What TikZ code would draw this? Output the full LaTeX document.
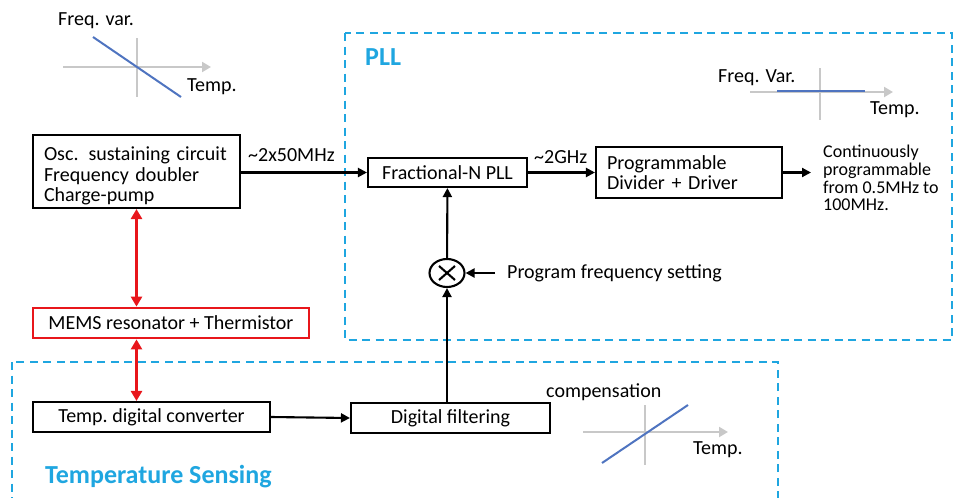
\documentclass[tikz,border=0pt]{standalone}
\usepackage{fontspec}
\setmainfont{Carlito}
\usepackage{tikz}
\usetikzlibrary{arrows.meta,positioning,calc,shapes.geometric}
\definecolor{cFrame}{HTML}{1FA6E0}
\definecolor{cCurve}{HTML}{4F74C0}
\definecolor{cAxis}{HTML}{C8C8C8}
\definecolor{cMems}{HTML}{E8161B}
\tikzset{
  blk/.style   ={draw, line width=2.1pt, font=\fontsize{20}{20.3}\selectfont, inner sep=0pt},
  memsblk/.style={draw=cMems, line width=2.8pt, font=\fontsize{20}{20.3}\selectfont, inner sep=0pt},
  lbl/.style   ={inner sep=0pt, anchor=west, font=\fontsize{20}{20.3}\selectfont},
  small/.style ={inner sep=0pt, anchor=west, align=left, font=\fontsize{18}{17.7}\selectfont},
  title/.style ={inner sep=0pt, anchor=west, text=cFrame, font=\bfseries\fontsize{26}{28}\selectfont},
  grp/.style   ={draw=cFrame, line width=2.4pt, dash pattern=on 8pt off 5.5pt},
  arrow/.style ={-{Triangle[length=9pt,width=9pt]}, line width=2.1pt},
  rarrow/.style={{Triangle[length=10pt,width=11pt]}-{Triangle[length=10pt,width=11pt]}, line width=2.8pt, draw=cMems},
  axis/.style  ={draw=cAxis, line width=2pt},
  curve/.style ={draw=cCurve, line width=2pt},
}

\begin{document}
\begin{tikzpicture}[x=1pt, y=-1pt]
  \useasboundingbox (0,0) rectangle (954,498);
  \clip (0,0) rectangle (954,498);
  % frames
  \draw[grp] (345,33) rectangle (952,340);
  \draw[grp] (12,362) rectangle (778,520);
  \node[title] (tpll) at (365,57) {PLL};
  \node[title] (tsens) at (45,477) {Temperature Sensing};
  % blocks
  \node[blk, text width=185pt, inner xsep=11pt, minimum height=73pt, align=left] (osc) at (136.5,171.5)
    {\rule{0pt}{23pt}Osc. sustaining circuit\\Frequency doubler\\Charge-pump};
  \node[blk, minimum width=159pt, minimum height=29pt] (fpll) at (447.5,172.5) {Fractional-N PLL};
  \node[blk, text width=164pt, inner xsep=11pt, minimum height=51pt, align=left] (prog) at (689,172.5)
    {Programmable\\Divider + Driver};
  \node[draw, ellipse, line width=2.1pt, minimum width=35pt, minimum height=28pt, inner sep=0pt] (mix) at (447,273) {};
  \draw[line width=2.1pt] ($(mix.center)+(-8,-7)$) -- ($(mix.center)+(8,7)$)
                          ($(mix.center)+(8,-7)$) -- ($(mix.center)+(-8,7)$);
  \node[memsblk, minimum width=276pt, minimum height=30pt] (mems) at (171,323) {MEMS resonator + Thermistor};
  \node[blk, minimum width=237pt, minimum height=30pt] (tdc) at (151.5,417) {Temp.\ digital converter};
  \node[blk, minimum width=199pt, minimum height=30pt] (dfilt) at (450.5,418) {Digital filtering};
  % labels
  \node[lbl] (f100) at (248,155) {\textasciitilde 2x50MHz};
  \node[lbl] (f2g) at (534,157) {\textasciitilde 2GHz};
  \node[lbl] (pfs) at (507,273) {Program frequency setting};
  \node[small] (cont) at (823,178) {Continuously\\programmable\\from 0.5MHz to\\100MHz.};
  \coordinate (out) at (811,172.5);
  % connectors
  \draw[arrow] (osc.east |- fpll.west) -- (fpll.west);
  \draw[arrow] (fpll.east) -- (fpll.east -| prog.west);
  \draw[arrow] (prog.east) -- (out);
  \draw[arrow] (mix) -- (fpll);
  \draw[arrow] ([xshift=-12pt]pfs.west) -- (mix.east);
  \draw[arrow] (dfilt.north -| mix) -- (mix);
  \draw[arrow] (tdc.east) -- (dfilt.west);
  \draw[rarrow] (osc.south) -- (osc.south |- mems.north);
  \draw[rarrow] (mems.south -| osc.south) -- (tdc.north -| osc.south);
  % frequency vs temperature sketches
  \draw[axis, -{Triangle[length=9pt,width=10pt]}] (63,67) -- (211,67);
  \draw[axis] (137,38) -- (137,97);
  \draw[curve] (93,37) -- (181,97);
  \node[lbl] (fv1) at (58,21) {Freq. var.};
  \node[lbl] (tp1) at (187,87) {Temp.};
  \draw[axis, -{Triangle[length=9pt,width=10pt]}] (750,92) -- (893,92);
  \draw[axis] (820,68) -- (820,120);
  \draw[curve] (777,91) -- (865,91);
  \node[lbl] (fv2) at (718,78) {Freq. Var.};
  \node[lbl] (tp2) at (870,110) {Temp.};
  \draw[axis, -{Triangle[length=9pt,width=10pt]}] (583,432) -- (728,432);
  \draw[axis] (645,405) -- (645,465);
  \draw[curve] (602,463) -- (688,405);
  \node[lbl] (comp) at (546,392) {compensation};
  \node[lbl] (tp3) at (693,450) {Temp.};
\end{tikzpicture}
\end{document}
